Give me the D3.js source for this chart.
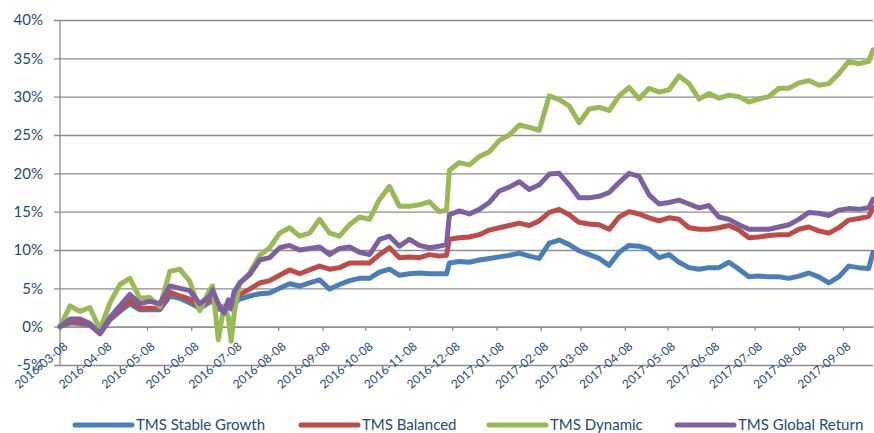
<!DOCTYPE html>
<html><head><meta charset="utf-8">
<script src="https://cdn.jsdelivr.net/npm/d3@7"></script>
<style>
html,body{margin:0;padding:0;background:#fff;}
svg{display:block;font-family:Lato,"Open Sans",sans-serif;}
</style></head><body>
<svg id="chart" width="874" height="433"></svg>
<script>
const dates = ["2016-03-08","2016-03-15","2016-03-22","2016-03-29","2016-04-05","2016-04-12","2016-04-19","2016-04-26","2016-05-03","2016-05-10",
"2016-05-17","2016-05-24","2016-05-31","2016-06-07","2016-06-14","2016-06-21","2016-06-23","2016-06-27","2016-07-01","2016-07-04",
"2016-07-06","2016-07-08","2016-07-12","2016-07-19","2016-07-26","2016-08-02","2016-08-09","2016-08-16","2016-08-23","2016-08-30",
"2016-09-06","2016-09-13","2016-09-20","2016-09-27","2016-10-04","2016-10-11","2016-10-18","2016-10-25","2016-11-01","2016-11-08",
"2016-11-15","2016-11-22","2016-11-29","2016-12-04","2016-12-06","2016-12-13","2016-12-20","2016-12-27","2017-01-03","2017-01-10",
"2017-01-17","2017-01-24","2017-01-31","2017-02-07","2017-02-14","2017-02-21","2017-02-28","2017-03-07","2017-03-14","2017-03-21",
"2017-03-28","2017-04-04","2017-04-11","2017-04-18","2017-04-25","2017-05-02","2017-05-09","2017-05-16","2017-05-23","2017-05-30",
"2017-06-06","2017-06-13","2017-06-20","2017-06-27","2017-07-04","2017-07-11","2017-07-18","2017-07-25","2017-08-01","2017-08-08",
"2017-08-15","2017-08-22","2017-08-29","2017-09-05","2017-09-12","2017-09-19","2017-09-26","2017-09-29"];

const stableGrowth = [0,0.5,0.4,0.2,-0.9,0.9,2.0,3.0,2.2,2.2,
2.2,4.0,3.7,3.1,2.4,3.2,3.3,2.3,2.2,2.5,
2.3,3.0,3.6,4.0,4.3,4.4,5.0,5.6,5.3,5.7,
6.1,4.9,5.5,6.0,6.3,6.3,7.1,7.5,6.7,6.9,
7.0,6.9,6.9,6.9,8.3,8.5,8.4,8.7,8.9,9.1,
9.3,9.6,9.2,8.9,10.9,11.3,10.7,9.9,9.4,8.9,
8.0,9.7,10.6,10.5,10.1,9.0,9.4,8.4,7.7,7.5,
7.7,7.7,8.4,7.5,6.5,6.6,6.5,6.5,6.3,6.6,
7.0,6.5,5.7,6.5,7.9,7.7,7.6,9.7];

const balanced = [0,0.7,0.6,0.3,-0.9,1.0,2.3,3.4,2.4,2.4,
2.4,4.5,4.0,3.6,2.6,3.6,3.9,2.5,2.4,2.8,
2.6,3.4,4.2,4.9,5.7,6.0,6.7,7.4,6.9,7.4,
7.9,7.5,7.7,8.3,8.3,8.3,9.4,10.3,9.0,9.1,
9.0,9.4,9.2,9.3,11.4,11.6,11.7,12.0,12.6,12.9,
13.2,13.5,13.2,13.8,14.9,15.3,14.6,13.6,13.4,13.3,
12.7,14.3,15.0,14.7,14.2,13.8,14.2,14.0,12.9,12.7,
12.7,12.9,13.2,12.6,11.6,11.7,11.9,12.0,12.0,12.7,
13.0,12.5,12.2,12.9,13.9,14.1,14.4,15.5];

const dynamic = [0,2.7,2.0,2.5,-0.4,3.1,5.5,6.3,3.7,3.8,
2.6,7.2,7.5,5.9,2.1,4.8,5.3,-1.7,2.7,1.2,
-1.9,1.6,5.7,7.0,9.3,10.3,12.2,12.9,11.8,12.2,
14.0,12.2,11.8,13.3,14.3,14.0,16.6,18.3,15.7,15.7,
15.9,16.3,15.0,15.2,20.4,21.4,21.1,22.2,22.8,24.3,
25.0,26.3,26.0,25.6,30.1,29.6,28.8,26.6,28.4,28.6,
28.2,30.1,31.2,29.7,31.1,30.6,30.9,32.7,31.7,29.7,
30.4,29.8,30.2,30.0,29.3,29.7,30.0,31.1,31.1,31.8,
32.1,31.5,31.7,33.0,34.6,34.3,34.6,36.1];

const globalReturn = [0,1.0,1.0,0.4,-0.9,1.2,2.7,4.2,3.0,3.3,
3.0,5.3,5.0,4.7,3.0,4.0,4.8,3.0,1.8,3.5,
2.7,4.5,5.7,6.8,8.7,9.0,10.3,10.6,10.0,10.2,
10.4,9.4,10.2,10.4,9.7,9.4,11.4,11.8,10.5,11.4,
10.6,10.3,10.5,10.7,14.6,15.1,14.7,15.3,16.2,17.7,
18.2,18.9,17.9,18.5,19.9,20.0,18.5,16.8,16.8,17.0,
17.5,18.8,20.0,19.6,17.2,16.0,16.2,16.5,16.0,15.5,
15.8,14.3,14.0,13.3,12.7,12.7,12.7,13.0,13.3,14.0,
14.9,14.8,14.5,15.2,15.4,15.3,15.5,16.6];

const seriesNames = ["TMS Stable Growth","TMS Balanced","TMS Dynamic","TMS Global Return"];
const seriesColors = ["#4A7EBB","#BE4B48","#98B954","#7D60A0"];
const xTickLabels = ["2016-03-08","2016-04-08","2016-05-08","2016-06-08","2016-07-08","2016-08-08","2016-09-08","2016-10-08","2016-11-08","2016-12-08",
"2017-01-08","2017-02-08","2017-03-08","2017-04-08","2017-05-08","2017-06-08","2017-07-08","2017-08-08","2017-09-08"];
const yTickValues = [-5,0,5,10,15,20,25,30,35,40];
const xDomain = ["2016-03-08","2017-09-29"];

const parse = d3.utcParse("%Y-%m-%d");
const L = 60, R = 873, T = 20, B = 365;
const textColor = "#1F497D", gridColor = "#8c8c8c";

const x = d3.scaleUtc().domain(xDomain.map(parse)).range([L, R]);
const y = d3.scaleLinear().domain([-5, 40]).range([B, T]);
const svg = d3.select("#chart");

// gridlines + y labels
const gy = svg.append("g").attr("transform", `translate(${L - 6},0)`)
  .call(d3.axisLeft(y).tickValues(yTickValues).tickSize(-(R - L + 6)).tickPadding(11).tickFormat(d => d + "%"));
gy.select(".domain").remove();
gy.selectAll(".tick line").attr("stroke", gridColor).attr("stroke-width", 1.3);
gy.selectAll(".tick text").attr("fill", textColor).style("font-size", "15px").style("font-family", "Lato");

// vertical axis line
svg.append("line").attr("x1", L).attr("x2", L).attr("y1", T).attr("y2", B)
  .attr("stroke", gridColor).attr("stroke-width", 1.3);

// horizontal axis at 0%
const gx = svg.append("g").attr("transform", `translate(0,${y(0)})`)
  .call(d3.axisBottom(x).tickValues(xTickLabels.map(parse)).tickSize(4).tickSizeOuter(0)
    .tickFormat(d3.utcFormat("%Y-%m-%d")));
gx.select(".domain").attr("stroke", gridColor).attr("stroke-width", 1.3);
gx.selectAll(".tick line").attr("stroke", gridColor).attr("stroke-width", 1.3);
gx.selectAll(".tick text")
  .attr("x", 0).attr("y", 0).attr("dy", 0)
  .attr("text-anchor", "end")
  .attr("transform", "translate(8,21) rotate(-40)")
  .attr("fill", textColor).style("font-size", "12px").style("font-family", "Lato");

// series lines
const allSeries = [stableGrowth, balanced, dynamic, globalReturn];
const line = d3.line().x((d, i) => x(parse(dates[i]))).y(d => y(d));
svg.append("g").selectAll("path").data(allSeries).join("path")
  .attr("d", line)
  .attr("fill", "none")
  .attr("stroke", (d, i) => seriesColors[i])
  .attr("stroke-width", 5)
  .attr("stroke-linejoin", "round")
  .attr("stroke-linecap", "round");

// legend
const legendX = [75, 301, 489, 677];
const lg = svg.append("g").selectAll("g").data(seriesNames).join("g")
  .attr("transform", (d, i) => `translate(${legendX[i]},425)`);
lg.append("line").attr("x1", 0).attr("x2", 57).attr("y1", 0).attr("y2", 0)
  .attr("stroke", (d, i) => seriesColors[i]).attr("stroke-width", 5).attr("stroke-linecap", "round");
lg.append("text").attr("x", 61).attr("y", 0).attr("dy", "0.35em")
  .attr("fill", textColor).style("font-size", "15px").style("font-family", "Lato")
  .text(d => d);
</script>
</body></html>
